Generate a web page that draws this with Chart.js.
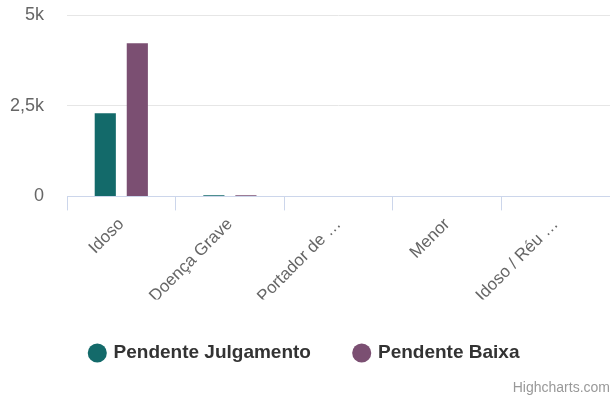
<!DOCTYPE html>
<html>
<head>
<meta charset="utf-8">
<script src="https://cdn.jsdelivr.net/npm/chart.js@4/dist/chart.umd.min.js"></script>
<style>
  html, body { margin: 0; padding: 0; background: #fff; }
  #wrap { position: relative; width: 610px; height: 401px; }
  #credits {
    position: absolute; right: 0; bottom: 6px; line-height: 16px;
    font-family: "Liberation Sans", Arial, sans-serif; font-size: 14px; color: #999;
  }
</style>
</head>
<body>
<div id="wrap">
  <canvas id="chart" width="610" height="401"></canvas>
  <div id="credits">Highcharts.com</div>
</div>
<script>
// categorias e séries
const categories = ['Idoso', 'Doença Grave', 'Portador de …', 'Menor', 'Idoso / Réu …'];
const pendenteJulgamento = [2290, 30, 0, 0, 0];
const pendenteBaixa = [4220, 30, 0, 0, 0];
const yTicks = [0, 2500, 5000];

const FONT = '"Liberation Sans", Arial, sans-serif';

function formatK(v) {
    if (v === 0) return '0';
    return String(v / 1000).replace('.', ',') + 'k';
}

const ctx = document.getElementById('chart');
new Chart(ctx, {
    type: 'bar',
    data: {
        labels: categories,
        datasets: [{
            label: 'Pendente Julgamento',
            data: pendenteJulgamento,
            backgroundColor: '#136a6a',
            categoryPercentage: 0.59,
            barPercentage: 0.66
        }, {
            label: 'Pendente Baixa',
            data: pendenteBaixa,
            backgroundColor: '#7b4f72',
            categoryPercentage: 0.59,
            barPercentage: 0.66
        }]
    },
    options: {
        responsive: false,
        animation: false,
        layout: {
            padding: { top: 15, right: 0, left: 0, bottom: 28.5 }
        },
        plugins: {
            legend: {
                position: 'bottom',
                labels: {
                    usePointStyle: true,
                    pointStyle: 'circle',
                    boxWidth: 13.5,
                    boxHeight: 13.5,
                    padding: 44,
                    color: '#333',
                    font: { family: FONT, size: 19, weight: 'bold' }
                }
            },
            tooltip: { enabled: false }
        },
        scales: {
            x: {
                offset: true,
                afterFit: s => { s.paddingLeft = 0; s.paddingRight = 0; s.height -= 11.5; },
                border: { color: '#ccd6eb', width: 1 },
                grid: {
                    offset: true,
                    drawOnChartArea: false,
                    color: '#ccd6eb',
                    tickLength: 14
                },
                ticks: {
                    minRotation: 45,
                    maxRotation: 45,
                    color: '#666',
                    padding: 4,
                    font: { family: FONT, size: 17 }
                }
            },
            y: {
                min: 0,
                max: 5000,
                afterBuildTicks: axis => {
                    axis.ticks = yTicks.map(v => ({ value: v }));
                },
                afterFit: s => { s.paddingTop = 0; s.paddingBottom = 0; s.width = 67; },
                border: { display: false },
                grid: { color: '#e6e6e6', drawTicks: false },
                ticks: {
                    color: '#666',
                    padding: 23,
                    font: { family: FONT, size: 18 },
                    callback: v => formatK(v)
                }
            }
        }
    }
});
</script>
</body>
</html>
